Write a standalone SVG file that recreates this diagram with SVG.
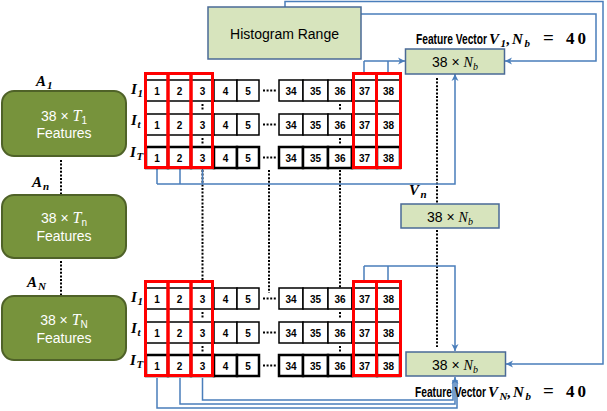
<svg xmlns="http://www.w3.org/2000/svg" xmlns:xlink="http://www.w3.org/1999/xlink" width="607" height="411" viewBox="0 0 607 411">
<style>
.c{fill:#fff;stroke:#000;stroke-width:1.5}
.cT{fill:#fff;stroke:#000;stroke-width:2.5}
.n{font-family:"Liberation Sans",Arial,sans-serif;font-weight:bold;font-size:10px;text-anchor:middle;fill:#000}
.red{fill:none;stroke:#ff0000;stroke-width:3}
.dots{fill:none;stroke:#000;stroke-width:2;stroke-dasharray:2 1.6}
.blue{fill:none;stroke:#4a7ebb;stroke-width:1.5}
.green{fill:#77933c;stroke:#4f6228;stroke-width:2}
.gt{font-family:"Liberation Sans",Arial,sans-serif;font-size:14px;fill:#fff;text-anchor:middle}
.lb{font-family:"Liberation Serif","Times New Roman",serif;font-weight:bold;font-style:italic;font-size:15px;fill:#000}
.sub{font-size:11px}
.pale{fill:#d7e4bd;stroke:#4a6a96;stroke-width:1.5}
.bt{font-family:"Liberation Sans",Arial,sans-serif;font-size:14px;fill:#000;text-anchor:middle}
.fv{font-family:"Liberation Sans",Arial,sans-serif;font-weight:bold;font-size:15px;fill:#000}
.mi{font-family:"Liberation Serif","Times New Roman",serif;font-style:italic}
.up{font-style:normal}
</style>
<defs>
<marker id="arr" markerWidth="8" markerHeight="8" refX="7" refY="4" orient="auto" markerUnits="userSpaceOnUse">
<path d="M0,0.5 L7,4 L0,7.5 L2,4 z" fill="#4a7ebb"/>
</marker>
<g id="gridTpl">
<rect class="c" x="146" y="80" width="22" height="21"/><rect class="c" x="168" y="80" width="23" height="21"/><rect class="c" x="191" y="80" width="23" height="21"/><rect class="c" x="214" y="80" width="23" height="21"/><rect class="c" x="237" y="80" width="22" height="21"/>
<rect class="c" x="279" y="80" width="24" height="21"/><rect class="c" x="303" y="80" width="25" height="21"/><rect class="c" x="328" y="80" width="24" height="21"/><rect class="c" x="352" y="80" width="25" height="21"/><rect class="c" x="377" y="80" width="23" height="21"/>
<rect class="c" x="146" y="114" width="22" height="21"/><rect class="c" x="168" y="114" width="23" height="21"/><rect class="c" x="191" y="114" width="23" height="21"/><rect class="c" x="214" y="114" width="23" height="21"/><rect class="c" x="237" y="114" width="22" height="21"/>
<rect class="c" x="279" y="114" width="24" height="21"/><rect class="c" x="303" y="114" width="25" height="21"/><rect class="c" x="328" y="114" width="24" height="21"/><rect class="c" x="352" y="114" width="25" height="21"/><rect class="c" x="377" y="114" width="23" height="21"/>
<rect class="cT" x="146" y="147" width="22" height="21"/><rect class="cT" x="168" y="147" width="23" height="21"/><rect class="cT" x="191" y="147" width="23" height="21"/><rect class="cT" x="214" y="147" width="23" height="21"/><rect class="cT" x="237" y="147" width="22" height="21"/>
<rect class="cT" x="279" y="147" width="24" height="21"/><rect class="cT" x="303" y="147" width="25" height="21"/><rect class="cT" x="328" y="147" width="24" height="21"/><rect class="cT" x="352" y="147" width="25" height="21"/><rect class="cT" x="377" y="147" width="23" height="21"/>
<g class="n">
<text x="157" y="94.5">1</text><text x="179.5" y="94.5">2</text><text x="202.5" y="94.5">3</text><text x="225.5" y="94.5">4</text><text x="248" y="94.5">5</text>
<text x="291" y="94.5">34</text><text x="315.5" y="94.5">35</text><text x="340" y="94.5">36</text><text x="364.5" y="94.5">37</text><text x="388.5" y="94.5">38</text>
<text x="157" y="128.5">1</text><text x="179.5" y="128.5">2</text><text x="202.5" y="128.5">3</text><text x="225.5" y="128.5">4</text><text x="248" y="128.5">5</text>
<text x="291" y="128.5">34</text><text x="315.5" y="128.5">35</text><text x="340" y="128.5">36</text><text x="364.5" y="128.5">37</text><text x="388.5" y="128.5">38</text>
<text x="157" y="161.5">1</text><text x="179.5" y="161.5">2</text><text x="202.5" y="161.5">3</text><text x="225.5" y="161.5">4</text><text x="248" y="161.5">5</text>
<text x="291" y="161.5">34</text><text x="315.5" y="161.5">35</text><text x="340" y="161.5">36</text><text x="364.5" y="161.5">37</text><text x="388.5" y="161.5">38</text>
</g>
<path class="dots" d="M263,90.5 H277 M263,124.5 H277 M263,157.5 H277"/>
<path class="dots" d="M202.5,104 V111 M202.5,138 V145 M340,104 V111 M340,138 V145" stroke-dasharray="2 2.5"/>
<rect class="red" x="145.5" y="73.5" width="22.5" height="94"/>
<rect class="red" x="168" y="73.5" width="23" height="94"/>
<rect class="red" x="191" y="73.5" width="21.5" height="94"/>
<rect class="red" x="353.5" y="73.5" width="23" height="94"/>
<rect class="red" x="376.5" y="73.5" width="24" height="94"/>
<text class="lb" y="94"><tspan x="131">I</tspan><tspan class="sub" x="137.5" dy="3">1</tspan></text>
<text class="lb" y="125"><tspan x="131">I</tspan><tspan class="sub" x="137.5" dy="3">t</tspan></text>
<text class="lb" y="157"><tspan x="130">I</tspan><tspan class="sub" x="136.5" dy="3">T</tspan></text>
</g>
</defs>

<g id="connectors">
<path class="dots" d="M61,160 V194 M61,261 V296"/>
<path class="dots" d="M202.5,170 V280 M269,170 V293 M340,170 V288 M437,78 V203 M437,230 V347"/>
<path class="blue" d="M157,169 V184 M180,169 V184 M202.5,169 V184 M157,184 H455 V74" marker-end="url(#arr)"/>
<path class="blue" d="M364,72 V61 M388,72 V61 M364,61 H405" marker-end="url(#arr)"/>
<path class="blue" d="M364,280 V266 M388,280 V266 M364,266 H455 V351" marker-end="url(#arr)"/>
<path class="blue" d="M157,378 V408 H457 V380 M180,378 V404 H455 V380 M202.5,378 V400 H453 V380"/>
<path class="blue" d="M455,382 V377" marker-end="url(#arr)"/>
<path class="blue" d="M285,7 V1.5 H603 V364 H506" marker-end="url(#arr)"/>
<path class="blue" d="M361,14 H596 V61 H505" marker-end="url(#arr)"/>
</g>

<g id="A1">
<rect class="green" x="2" y="91" width="124" height="65" rx="12"/>
<text class="gt" x="64" y="121">38 × <tspan class="mi" font-size="16">T</tspan><tspan font-size="10" dy="3">1</tspan></text>
<text class="gt" x="64" y="138">Features</text>
<text class="lb" y="86" font-size="16"><tspan x="36">A</tspan><tspan class="sub" x="47" dy="3">1</tspan></text>
</g>
<g id="An">
<rect class="green" x="2" y="195" width="124" height="63" rx="12"/>
<text class="gt" x="64" y="223">38 × <tspan class="mi" font-size="16">T</tspan><tspan font-size="10" dy="3">n</tspan></text>
<text class="gt" x="64" y="241">Features</text>
<text class="lb" y="187" font-size="16"><tspan x="32">A</tspan><tspan class="sub" x="43" dy="3">n</tspan></text>
</g>
<g id="AN">
<rect class="green" x="2" y="296" width="124" height="64" rx="12"/>
<text class="gt" x="64" y="325">38 × <tspan class="mi" font-size="16">T</tspan><tspan font-size="10" dy="3">N</tspan></text>
<text class="gt" x="64" y="343">Features</text>
<text class="lb" y="287" font-size="16"><tspan x="27">A</tspan><tspan class="sub" x="38" dy="3">N</tspan></text>
</g>

<g id="grid-A1"><use href="#gridTpl" xlink:href="#gridTpl"/></g>
<g id="grid-AN" transform="translate(0,208)"><use href="#gridTpl" xlink:href="#gridTpl"/></g>

<g id="histogram-range">
<rect class="pale" x="208" y="7" width="153" height="52"/>
<text class="bt" x="284.5" y="38.5">Histogram Range</text>
</g>

<g id="V1">
<rect class="pale" x="405.5" y="49" width="99" height="25"/>
<text class="bt" x="455" y="67" font-size="15">38 × <tspan class="mi">N</tspan><tspan class="mi" font-size="10" dy="3">b</tspan></text>
<text class="fv" x="416" y="44" textLength="71" lengthAdjust="spacingAndGlyphs">Feature Vector</text>
<text class="lb" y="44" font-size="16"><tspan x="489">V</tspan><tspan class="sub" x="500.5" dy="3">1</tspan><tspan x="506.5" dy="-3">,</tspan><tspan x="512">N</tspan><tspan class="sub" x="524.5" dy="3">b</tspan><tspan class="up" x="543" dy="-3" font-size="19">=</tspan><tspan class="up" x="566" font-size="17" letter-spacing="3">40</tspan></text>
</g>

<g id="Vn">
<rect class="pale" x="401" y="204" width="98" height="24"/>
<text class="bt" x="450" y="221.5" font-size="15">38 × <tspan class="mi">N</tspan><tspan class="mi" font-size="10" dy="3">b</tspan></text>
<text class="lb" y="195" font-size="16"><tspan x="409">V</tspan><tspan class="sub" x="420.5" dy="3">n</tspan></text>
</g>

<g id="VN">
<rect class="pale" x="406" y="352" width="99.5" height="24"/>
<text class="bt" x="455" y="370" font-size="15">38 × <tspan class="mi">N</tspan><tspan class="mi" font-size="10" dy="3">b</tspan></text>
<text class="fv" x="415" y="397" textLength="71" lengthAdjust="spacingAndGlyphs">Feature Vector</text>
<text class="lb" y="397" font-size="16"><tspan x="488">V</tspan><tspan class="sub" x="499.5" dy="3">N</tspan><tspan x="507.5" dy="-3">,</tspan><tspan x="513">N</tspan><tspan class="sub" x="525.5" dy="3">b</tspan><tspan class="up" x="543" dy="-3" font-size="19">=</tspan><tspan class="up" x="566" font-size="17" letter-spacing="3">40</tspan></text>
</g>
</svg>
